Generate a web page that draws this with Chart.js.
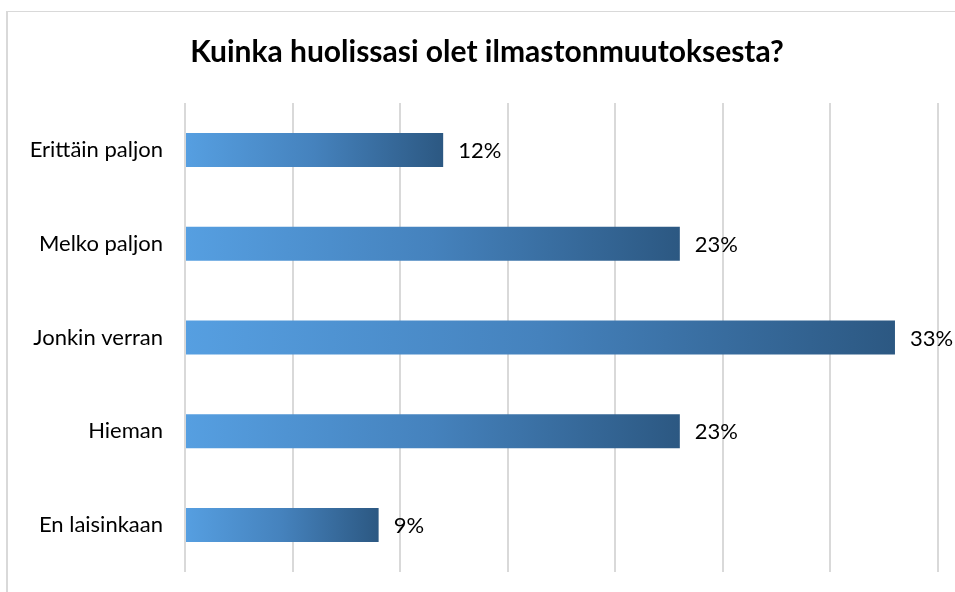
<!DOCTYPE html>
<html>
<head>
<meta charset="utf-8">
<style>
  html, body { margin: 0; padding: 0; background: #ffffff; overflow: hidden; }
  #wrap { position: relative; width: 955px; height: 592px; }
  #frame { position: absolute; left: 6px; top: 11px; width: 1200px; height: 800px;
           border-left: 2px solid #d9d9d9; border-top: 1px solid #d9d9d9; }
  canvas { position: absolute; left: 0; top: 0; }
</style>
<script src="https://cdn.jsdelivr.net/npm/chart.js@4/dist/chart.umd.min.js"></script>
</head>
<body>
<div id="wrap">
  <div id="frame"></div>
  <canvas id="c" width="955" height="592"></canvas>
</div>
<script>
const chartTitle = 'Kuinka huolissasi olet ilmastonmuutoksesta?';
const categories = ['Erittäin paljon', 'Melko paljon', 'Jonkin verran', 'Hieman', 'En laisinkaan'];
const shares = [12, 23, 33, 23, 9];
const axisMax = 35;
const axisStep = 5;

const FONT = 'Lato, "Noto Sans", sans-serif';

// Each bar is filled with its own left-to-right gradient.
function barGradient(ctx) {
  const chart = ctx.chart;
  const area = chart.chartArea;
  if (!area || ctx.type !== 'data') return '#4a8fd0';
  const x = chart.scales.x;
  const x0 = x.getPixelForValue(0);
  const x1 = x.getPixelForValue(ctx.raw);
  const g = chart.ctx.createLinearGradient(x0, 0, Math.max(x1, x0 + 1), 0);
  g.addColorStop(0, '#569fe1');
  g.addColorStop(0.5, '#4582bd');
  g.addColorStop(1, '#2c5882');
  return g;
}

// Percentage labels to the right of each bar.
const valueLabels = {
  id: 'valueLabels',
  afterDatasetsDraw(chart) {
    const ctx = chart.ctx;
    const meta = chart.getDatasetMeta(0);
    ctx.save();
    ctx.font = '22px ' + FONT;
    ctx.fillStyle = '#000000';
    ctx.textAlign = 'left';
    ctx.textBaseline = 'middle';
    meta.data.forEach((bar, i) => {
      ctx.fillText(shares[i] + '%', bar.x + 15, bar.y + 1);
    });
    ctx.restore();
  }
};

// Heading centred over the whole framed chart, not just the canvas box.
const heading = {
  id: 'heading',
  afterDraw(chart) {
    const ctx = chart.ctx;
    ctx.save();
    ctx.font = 'bold 30px ' + FONT;
    ctx.fillStyle = '#000000';
    ctx.textAlign = 'center';
    ctx.textBaseline = 'middle';
    ctx.fillText(chartTitle, 487, 52);
    ctx.restore();
  }
};

new Chart(document.getElementById('c'), {
  type: 'bar',
  data: {
    labels: categories,
    datasets: [{
      data: shares,
      backgroundColor: barGradient,
      borderWidth: 0,
      barPercentage: 0.363,
      categoryPercentage: 1
    }]
  },
  options: {
    indexAxis: 'y',
    responsive: false,
    animation: false,
    layout: { padding: { top: 103, right: 17, bottom: 20, left: 0 } },
    plugins: {
      legend: { display: false },
      tooltip: { enabled: false },
      title: { display: false }
    },
    scales: {
      x: {
        min: 0,
        max: axisMax,
        ticks: { display: false, stepSize: axisStep },
        grid: { color: '#d9d9d9', lineWidth: 2, drawTicks: false },
        border: { display: false },
        afterFit(scale) { scale.height = 0; }
      },
      y: {
        grid: { display: false, drawTicks: false },
        border: { display: false },
        ticks: { color: '#000000', font: { family: FONT, size: 22 }, padding: 22 },
        afterFit(scale) {
          scale.width = 185;
          scale.paddingTop = 0;
          scale.paddingBottom = 0;
        }
      }
    }
  },
  plugins: [valueLabels, heading]
});
</script>
</body>
</html>
